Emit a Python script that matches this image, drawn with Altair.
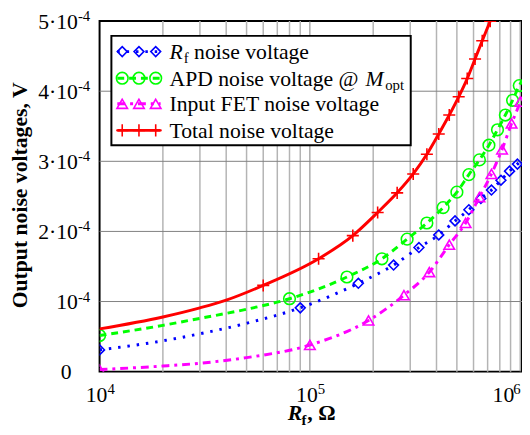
import altair as alt
import pandas as pd

# ---------------- data ----------------
# R_f noise voltage (V)
rf_x = [1e4, 2e4, 3e4, 5e4, 9e4, 1.7e5, 2.5e5, 3.3e5, 4.1e5, 4.9e5, 5.7e5, 6.5e5,
        7.3e5, 8.1e5, 8.9e5, 9.7e5, 1.02e6]
rf_y = [3.1e-5, 4.4e-5, 5.4e-5, 6.9e-5, 9.1e-5, 1.26e-4, 1.52e-4, 1.77e-4, 1.95e-4,
        2.15e-4, 2.31e-4, 2.47e-4, 2.59e-4, 2.73e-4, 2.86e-4, 2.96e-4, 3.03e-4]
rf_marks = [1e4, 9e4, 1.7e5, 2.5e5, 3.3e5, 4.1e5, 4.9e5, 5.7e5, 6.5e5, 7.3e5,
            8.1e5, 8.9e5, 9.7e5]

# APD noise voltage @ M_opt (V)
apd_x = [1e4, 2e4, 3e4, 5e4, 8e4, 1.5e5, 2.2e5, 2.9e5, 3.6e5, 4.3e5, 5.0e5, 5.7e5,
         6.4e5, 7.1e5, 7.8e5, 8.5e5, 9.2e5, 9.9e5, 1.02e6]
apd_y = [5.15e-5, 6.6e-5, 7.6e-5, 8.9e-5, 1.04e-4, 1.35e-4, 1.61e-4, 1.89e-4, 2.12e-4,
         2.34e-4, 2.56e-4, 2.81e-4, 3.02e-4, 3.23e-4, 3.45e-4, 3.66e-4, 3.87e-4,
         4.08e-4, 4.15e-4]
apd_marks = [1e4, 8e4, 1.5e5, 2.2e5, 2.9e5, 3.6e5, 4.3e5, 5.0e5, 5.7e5, 6.4e5,
             7.1e5, 7.8e5, 8.5e5, 9.2e5, 9.9e5]

# Input FET noise voltage (V)
fet_x = [1e4, 2e4, 3e4, 5e4, 1e5, 1.9e5, 2.8e5, 3.7e5, 4.6e5, 5.5e5, 6.4e5, 7.3e5,
         8.2e5, 9.1e5, 1e6, 1.02e6]
fet_y = [3e-6, 8e-6, 1.2e-5, 2.0e-5, 3.8e-5, 7.3e-5, 1.09e-4, 1.42e-4, 1.81e-4,
         2.12e-4, 2.49e-4, 2.82e-4, 3.17e-4, 3.54e-4, 3.85e-4, 3.93e-4]
fet_marks = [1e4, 1e5, 1.9e5, 2.8e5, 3.7e5, 4.6e5, 5.5e5, 6.4e5, 7.3e5, 8.2e5,
             9.1e5, 1e6]

# Total noise voltage (V)
tot_x = [1e4, 2e4, 3e4, 4e4, 6e4, 1.1e5, 1.6e5, 2.1e5, 2.6e5, 3.1e5, 3.6e5, 4.1e5,
         4.6e5, 5.1e5, 5.6e5, 6.1e5, 6.6e5, 7.2e5]
tot_y = [6.1e-5, 7.8e-5, 9.1e-5, 1.02e-4, 1.23e-4, 1.61e-4, 1.94e-4, 2.27e-4, 2.55e-4,
         2.82e-4, 3.10e-4, 3.39e-4, 3.66e-4, 3.92e-4, 4.18e-4, 4.46e-4, 4.72e-4, 5.0e-4]
tot_marks = [6e4, 1.1e5, 1.6e5, 2.1e5, 2.6e5, 3.1e5, 3.6e5, 4.1e5, 4.6e5, 5.1e5,
             5.6e5, 6.1e5, 6.6e5, 7.2e5]

# grid / tick values
grid_minor_x = [2e4, 3e4, 4e4, 5e4, 6e4, 7e4, 8e4, 9e4,
                2e5, 3e5, 4e5, 5e5, 6e5, 7e5, 8e5, 9e5]
grid_major_x = [1e5, 1e6]
grid_y = [1e-4, 2e-4, 3e-4, 4e-4]
ytick_vals = [5e-4, 4e-4, 3e-4, 2e-4, 1e-4]
ytick_base = ["5·10", "4·10", "3·10", "2·10", "10"]
ytick_sup = ["-4", "-4", "-4", "-4", "-4"]
xtick_vals = [1e4, 1e5]
xtick_sup = ["4", "5"]
xtick_last = [1e6]
xtick_last_sup = ["6"]

FONT = "Liberation Serif"
W, H = 429, 356

xs = alt.Scale(type="log", domain=[1e4, 1.02e6], nice=False)
ys = alt.Scale(domain=[0, 5e-4], nice=False, zero=False)
X = alt.X("x:Q", scale=xs, axis=None)
Y = alt.Y("y:Q", scale=ys, axis=None)

RED, GREEN, BLUE, MAG = "#ff0000", "#00ff00", "#0000ff", "#ff00ff"

series = [
    (rf_x, rf_y, rf_marks, BLUE, [2.5, 7], "diamond", 100),
    (apd_x, apd_y, apd_marks, GREEN, [7, 5], "circle", 140),
    (fet_x, fet_y, fet_marks, MAG, [8, 5, 3, 5], "triangle-up", 115),
    (tot_x, tot_y, tot_marks, RED, None, "M-1,0H1M0,-1V1", 150),
]

layers = []

# grid
layers.append(alt.Chart(pd.DataFrame({"x": grid_minor_x})).mark_rule(
    color="#b4b4b4", strokeWidth=1.5).encode(x=X))
layers.append(alt.Chart(pd.DataFrame({"x": grid_major_x})).mark_rule(
    color="#808080", strokeWidth=1).encode(x=X))
layers.append(alt.Chart(pd.DataFrame({"y": grid_y})).mark_rule(
    color="#808080", strokeWidth=1).encode(y=Y))

# series lines and markers
for sx, sy, sm, col, dash, shape, size in series:
    df = pd.DataFrame({"x": sx, "y": sy})
    lk = dict(color=col, strokeWidth=3, clip=True, interpolate="monotone")
    if dash:
        lk["strokeDash"] = dash
    layers.append(alt.Chart(df).mark_line(**lk).encode(x=X, y=Y))
    mdf = df[df["x"].isin(sm)]
    layers.append(alt.Chart(mdf).mark_point(
        shape=shape, filled=False, color=col, strokeWidth=1.6, size=size,
        opacity=1, clip=True).encode(x=X, y=Y))

# legend box
layers.append(alt.Chart(pd.DataFrame({"a": [0]})).mark_rect(
    fill="white", stroke="black", strokeWidth=2).encode(
    x=alt.value(12), x2=alt.value(316), y=alt.value(15), y2=alt.value(126)))

leg_rows = [31, 58, 84, 111]
leg_mx = [23, 40, 57]
for (sx, sy, sm, col, dash, shape, size), ry in zip(series, leg_rows):
    rk = dict(color=col, strokeWidth=3)
    if dash:
        rk["strokeDash"] = dash
    layers.append(alt.Chart(pd.DataFrame({"a": [0]})).mark_rule(**rk).encode(
        x=alt.value(18), x2=alt.value(62), y=alt.value(ry)))
    pdf = pd.DataFrame({"px": leg_mx, "py": [ry] * 3})
    layers.append(alt.Chart(pdf).mark_point(
        shape=shape, filled=False, color=col, strokeWidth=1.6, size=size,
        opacity=1).encode(x=alt.X("px:Q", scale=None), y=alt.Y("py:Q", scale=None)))


def txt(s, x, y, size=22, align="left", weight="normal", style="normal",
        angle=0, baseline="alphabetic"):
    kw = dict(font=FONT, fontSize=size, align=align, baseline=baseline,
              fontWeight=weight, fontStyle=style, color="black")
    if angle:
        kw["angle"] = angle
    return alt.Chart(pd.DataFrame({"a": [0]})).mark_text(**kw).encode(
        x=alt.value(x), y=alt.value(y), text=alt.value(s))


# legend texts
b = [r + 7.5 for r in leg_rows]
layers += [
    txt("R", 71, b[0], style="italic"),
    txt("f", 85.5, b[0] + 4, size=15),
    txt("noise voltage", 96, b[0]),
    txt("APD noise voltage @", 71, b[1]),
    txt("M", 270, b[1], style="italic"),
    txt("opt", 290, b[1] + 4, size=15),
    txt("Input FET noise voltage", 71, b[2]),
    txt("Total noise voltage", 71, b[3]),
]

# y tick labels
ydf = pd.DataFrame({"y": ytick_vals, "t": ytick_base, "s": ytick_sup})
layers.append(alt.Chart(ydf).mark_text(
    font=FONT, fontSize=22, align="right", baseline="alphabetic", dy=8,
    color="black").encode(y=Y, x=alt.value(-22), text="t:N"))
layers.append(alt.Chart(ydf).mark_text(
    font=FONT, fontSize=15, align="left", baseline="alphabetic", dy=0,
    color="black").encode(y=Y, x=alt.value(-22), text="s:N"))
layers.append(alt.Chart(pd.DataFrame({"y": [0.0], "t": ["0"]})).mark_text(
    font=FONT, fontSize=22, align="center", baseline="alphabetic", dy=7,
    color="black").encode(y=Y, x=alt.value(-34), text="t:N"))

# x tick labels
xdf = pd.DataFrame({"x": xtick_vals, "s": xtick_sup})
layers.append(alt.Chart(xdf).mark_text(
    font=FONT, fontSize=22, align="center", baseline="alphabetic", dx=-3,
    color="black").encode(x=X, y=alt.value(387), text=alt.value("10")))
layers.append(alt.Chart(xdf).mark_text(
    font=FONT, fontSize=15, align="left", baseline="alphabetic", dx=8,
    color="black").encode(x=X, y=alt.value(379), text="s:N"))
xdf2 = pd.DataFrame({"x": xtick_last, "s": xtick_last_sup})
layers.append(alt.Chart(xdf2).mark_text(
    font=FONT, fontSize=22, align="center", baseline="alphabetic", dx=-17,
    color="black").encode(x=X, y=alt.value(387), text=alt.value("10")))
layers.append(alt.Chart(xdf2).mark_text(
    font=FONT, fontSize=15, align="left", baseline="alphabetic", dx=-7,
    color="black").encode(x=X, y=alt.value(379), text="s:N"))

# axis titles
layers += [
    txt("Output noise voltages, V", -81, 177, weight="bold", align="center",
        angle=270, baseline="middle"),
    txt("R", 191, 405, weight="bold", style="italic"),
    txt("f", 205, 410, size=15, weight="bold"),
    txt(", Ω", 211, 405, weight="bold"),
]

chart = alt.layer(*layers).properties(
    width=W, height=H,
    padding={"left": 93, "top": 10, "right": 0, "bottom": 58},
    autosize=alt.AutoSizeParams(type="none"),
    background="white",
).configure_view(stroke="black", strokeWidth=2)

chart.save("out.html", embed_options={"renderer": "svg", "actions": False})
